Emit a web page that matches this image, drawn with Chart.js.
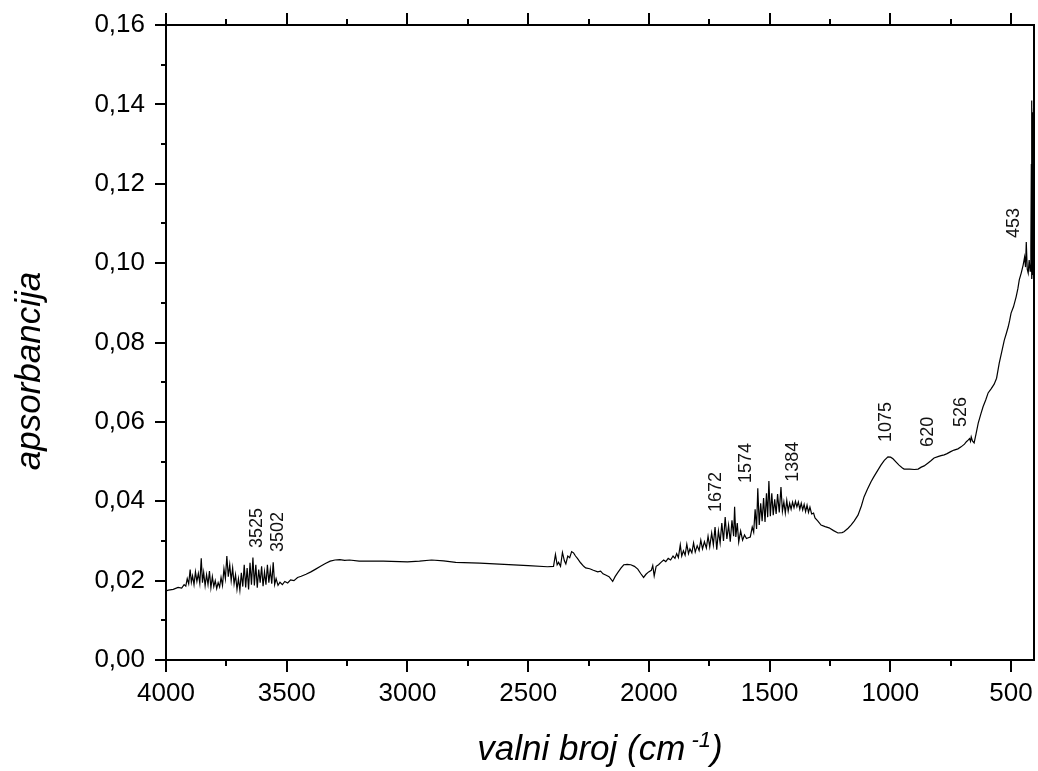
<!DOCTYPE html>
<html>
<head>
<meta charset="utf-8">
<script src="https://cdn.jsdelivr.net/npm/chart.js@4.4.1/dist/chart.umd.min.js"></script>
<style>
html,body{margin:0;padding:0;background:#fff;}
#wrap{width:1038px;height:771px;}
</style>
</head>
<body>
<div id="wrap"><canvas id="c" width="1038" height="771"></canvas></div>
<script>
const wavenumbers = [
4000,3990,3970,3950,3935,3925,3918,3912,3906,3900,3895,3890,3884,3878,3872,3866,3860,3854,3849,3844,3838,3832,3826,3820,3814,3808,3802,3796,3790,3784,3778,3772,3766,3760,3754,3748,3742,3736,3730,3724,3718,3712,3706,3700,3694,3688,3682,3676,3670,3664,3658,3652,3646,3640,3634,3628,3622,3616,3610,3604,3598,3592,3586,3580,3574,3568,3562,3556,3550,3544,3536,3528,3518,3508,3496,3484,3470,3455,3440,3420,3400,3380,3360,3340,3320,3300,3280,3260,3240,3200,3100,3000,2950,2900,2850,2800,2700,2600,2500,2420,2395,2387,2380,2374,2366,2358,2350,2344,2336,2328,2320,2312,2304,2296,2283,2270,2262,2245,2230,2212,2200,2190,2179,2165,2150,2140,2129,2115,2104,2090,2075,2060,2046,2034,2022,2012,2001,1990,1984,1978,1970,1960,1950,1939,1930,1920,1910,1900,1892,1885,1878,1870,1864,1857,1850,1843,1836,1830,1822,1815,1808,1800,1792,1785,1778,1770,1762,1755,1748,1740,1733,1726,1719,1712,1705,1698,1691,1684,1677,1670,1663,1656,1649,1645,1640,1634,1628,1620,1612,1604,1596,1588,1580,1572,1566,1560,1554,1549,1543,1537,1531,1525,1519,1513,1508,1503,1497,1491,1485,1479,1473,1467,1460,1453,1447,1441,1435,1429,1423,1417,1411,1405,1399,1393,1387,1381,1375,1369,1363,1357,1351,1345,1339,1333,1326,1318,1312,1300,1287,1270,1254,1235,1217,1200,1192,1175,1163,1150,1134,1120,1109,1095,1080,1068,1051,1039,1025,1010,999,989,975,964,950,943,920,900,885,872,860,845,832,819,800,790,777,765,750,736,720,707,693,685,678,672,668,665,660,653,645,636,625,616,605,595,582,570,560,549,538,528,520,512,506,500,490,479,472,466,458,450,444,440,437,433,429,425,421,418,416,415,414,413,412,411,410,409,408,407,406,405
];
const absorbance = [
0.0174,0.0176,0.0178,0.0183,0.0181,0.0190,0.0186,0.0205,0.0192,0.0228,0.0196,0.0212,0.0190,0.0222,0.0198,0.0218,0.0193,0.0256,0.0195,0.0221,0.0187,0.0215,0.0190,0.0224,0.0182,0.0210,0.0185,0.0200,0.0180,0.0195,0.0184,0.0208,0.0188,0.0230,0.0205,0.0262,0.0210,0.0240,0.0200,0.0232,0.0192,0.0215,0.0178,0.0205,0.0176,0.0220,0.0185,0.0240,0.0183,0.0232,0.0178,0.0245,0.0190,0.0258,0.0188,0.0240,0.0182,0.0228,0.0195,0.0236,0.0186,0.0222,0.0190,0.0240,0.0195,0.0228,0.0192,0.0246,0.0190,0.0205,0.0188,0.0196,0.0190,0.0198,0.0194,0.0202,0.0200,0.0208,0.0211,0.0216,0.0222,0.0229,0.0236,0.0243,0.0249,0.0252,0.0253,0.0251,0.0252,0.0249,0.0249,0.0247,0.0249,0.0252,0.0250,0.0246,0.0244,0.0241,0.0238,0.0235,0.0236,0.0266,0.0240,0.0246,0.0236,0.0271,0.0250,0.0242,0.0262,0.0258,0.0273,0.0270,0.0262,0.0256,0.0245,0.0236,0.0232,0.0230,0.0226,0.0222,0.0224,0.0217,0.0214,0.0210,0.0198,0.0210,0.0220,0.0232,0.0240,0.0241,0.0240,0.0236,0.0229,0.0218,0.0208,0.0216,0.0222,0.0226,0.0238,0.0212,0.0236,0.0240,0.0246,0.0252,0.0248,0.0256,0.0252,0.0262,0.0256,0.0268,0.0258,0.0290,0.0262,0.0275,0.0264,0.0292,0.0268,0.0280,0.0270,0.0295,0.0272,0.0288,0.0276,0.0302,0.0280,0.0298,0.0282,0.0312,0.0285,0.0320,0.0290,0.0335,0.0278,0.0325,0.0295,0.0345,0.0300,0.0360,0.0305,0.0340,0.0298,0.0352,0.0312,0.0386,0.0310,0.0345,0.0297,0.0325,0.0302,0.0315,0.0306,0.0308,0.0310,0.0335,0.0322,0.0380,0.0330,0.0433,0.0340,0.0395,0.0350,0.0408,0.0348,0.0420,0.0360,0.0451,0.0362,0.0420,0.0365,0.0405,0.0368,0.0418,0.0372,0.0436,0.0375,0.0398,0.0370,0.0402,0.0375,0.0395,0.0380,0.0398,0.0384,0.0400,0.0386,0.0398,0.0380,0.0395,0.0378,0.0392,0.0374,0.0390,0.0372,0.0385,0.0368,0.0370,0.0358,0.0350,0.0340,0.0336,0.0333,0.0326,0.0320,0.0321,0.0323,0.0332,0.0340,0.0350,0.0365,0.0388,0.0411,0.0430,0.0449,0.0462,0.0479,0.0491,0.0503,0.0512,0.0511,0.0507,0.0498,0.0491,0.0484,0.0481,0.0481,0.0480,0.0481,0.0486,0.0489,0.0496,0.0502,0.0509,0.0513,0.0515,0.0517,0.0520,0.0525,0.0529,0.0532,0.0537,0.0544,0.0550,0.0554,0.0558,0.0551,0.0562,0.0552,0.0547,0.0570,0.0597,0.0620,0.0638,0.0655,0.0673,0.0684,0.0695,0.0710,0.0748,0.0778,0.0806,0.0822,0.0839,0.0855,0.0874,0.0890,0.0915,0.0935,0.0958,0.0975,0.0995,0.1015,0.0990,0.1053,0.0985,0.0975,0.1008,0.0980,0.1040,0.1250,0.0960,0.1410,0.1080,0.1380,0.0970,0.1350,0.1000,0.1390,0.0960,0.1300,0.1000
];
const xTickValues = [4000,3500,3000,2500,2000,1500,1000,500];
const yTickValues = [0,0.02,0.04,0.06,0.08,0.10,0.12,0.14,0.16];
const peakLabels = ['3525','3502','1672','1574','1384','1075','620','526','453'];
const peakLabelX = [3623,3535,1723,1599,1404,1018,844,707,487];
const peakLabelY = [0.0282,0.0272,0.0373,0.0446,0.0449,0.0549,0.0537,0.0587,0.1063];
const xTitle = 'valni broj (cm';
const xTitleSup = '-1';
const yTitle = 'apsorbancija';

const FONT = '"Liberation Sans", Arial, sans-serif';

const points = wavenumbers.map((w, i) => ({x: w, y: absorbance[i]}));

const decor = {
  id: 'decor',
  afterDraw(chart) {
    const {ctx, chartArea: a, scales: {x, y}} = chart;
    ctx.save();
    ctx.strokeStyle = '#000';
    ctx.lineWidth = 2;
    ctx.strokeRect(a.left, a.top, a.right - a.left, a.bottom - a.top);
    ctx.beginPath();
    for (let v = 500; v <= 4000; v += 250) {
      const px = Math.round(x.getPixelForValue(v));
      const len = v % 500 === 0 ? 12 : 6;
      ctx.moveTo(px, a.bottom); ctx.lineTo(px, a.bottom + len);
      ctx.moveTo(px, a.top); ctx.lineTo(px, a.top - len);
    }
    for (let i = 0; i <= 16; i++) {
      const py = Math.round(y.getPixelForValue(i * 0.01));
      const len = i % 2 === 0 ? 11 : 5;
      ctx.moveTo(a.left, py); ctx.lineTo(a.left - len, py);
    }
    ctx.stroke();

    ctx.fillStyle = '#111';
    ctx.font = '18px ' + FONT;
    ctx.textAlign = 'left';
    ctx.textBaseline = 'middle';
    peakLabels.forEach((t, i) => {
      ctx.save();
      ctx.translate(x.getPixelForValue(peakLabelX[i]), y.getPixelForValue(peakLabelY[i]));
      ctx.rotate(-Math.PI / 2);
      ctx.fillText(t, 0, 0);
      ctx.restore();
    });

    ctx.fillStyle = '#000';
    const big = 'italic 35px ' + FONT;
    const small = 'italic 22px ' + FONT;
    ctx.font = big;
    const w1 = ctx.measureText(xTitle).width;
    ctx.font = small;
    const w2 = ctx.measureText(' ' + xTitleSup).width;
    ctx.font = big;
    const w3 = ctx.measureText(')').width;
    const total = w1 + w2 + w3;
    const sx = (a.left + a.right) / 2 - total / 2;
    const base = 760;
    ctx.textAlign = 'left';
    ctx.textBaseline = 'alphabetic';
    ctx.fillText(xTitle, sx, base);
    ctx.font = small;
    ctx.fillText(' ' + xTitleSup, sx + w1, base - 13);
    ctx.font = big;
    ctx.fillText(')', sx + w1 + w2, base);

    ctx.save();
    ctx.translate(30, 371);
    ctx.rotate(-Math.PI / 2);
    ctx.textAlign = 'center';
    ctx.textBaseline = 'middle';
    ctx.fillText(yTitle, 0, 0);
    ctx.restore();
    ctx.restore();
  }
};

new Chart(document.getElementById('c'), {
  type: 'line',
  data: {
    datasets: [{
      data: points,
      borderColor: '#000',
      borderWidth: 1.2,
      pointRadius: 0,
      tension: 0,
      fill: false
    }]
  },
  options: {
    responsive: false,
    animation: false,
    layout: {padding: {top: 25, right: 4, left: 0, bottom: 0}},
    plugins: {legend: {display: false}, tooltip: {enabled: false}},
    scales: {
      x: {
        type: 'linear',
        reverse: true,
        min: 405,
        max: 4000,
        afterBuildTicks(scale) {
          scale.ticks = xTickValues.map(v => ({value: v}));
        },
        afterFit(scale) {
          scale.height = 111;
          scale.paddingLeft = 0;
          scale.paddingRight = 0;
        },
        grid: {display: false, drawTicks: false},
        border: {display: false},
        ticks: {
          padding: 18,
          color: '#000',
          font: {family: FONT, size: 26},
          maxRotation: 0,
          autoSkip: false,
          callback: v => String(v)
        }
      },
      y: {
        min: 0,
        max: 0.16,
        afterBuildTicks(scale) {
          scale.ticks = yTickValues.map(v => ({value: v}));
        },
        afterFit(scale) {
          scale.width = 166;
          scale.paddingTop = 0;
          scale.paddingBottom = 0;
        },
        grid: {display: false, drawTicks: false},
        border: {display: false},
        ticks: {
          padding: 21,
          color: '#000',
          font: {family: FONT, size: 26},
          autoSkip: false,
          callback: v => v.toFixed(2).replace('.', ',')
        }
      }
    }
  },
  plugins: [decor]
});
</script>
</body>
</html>
